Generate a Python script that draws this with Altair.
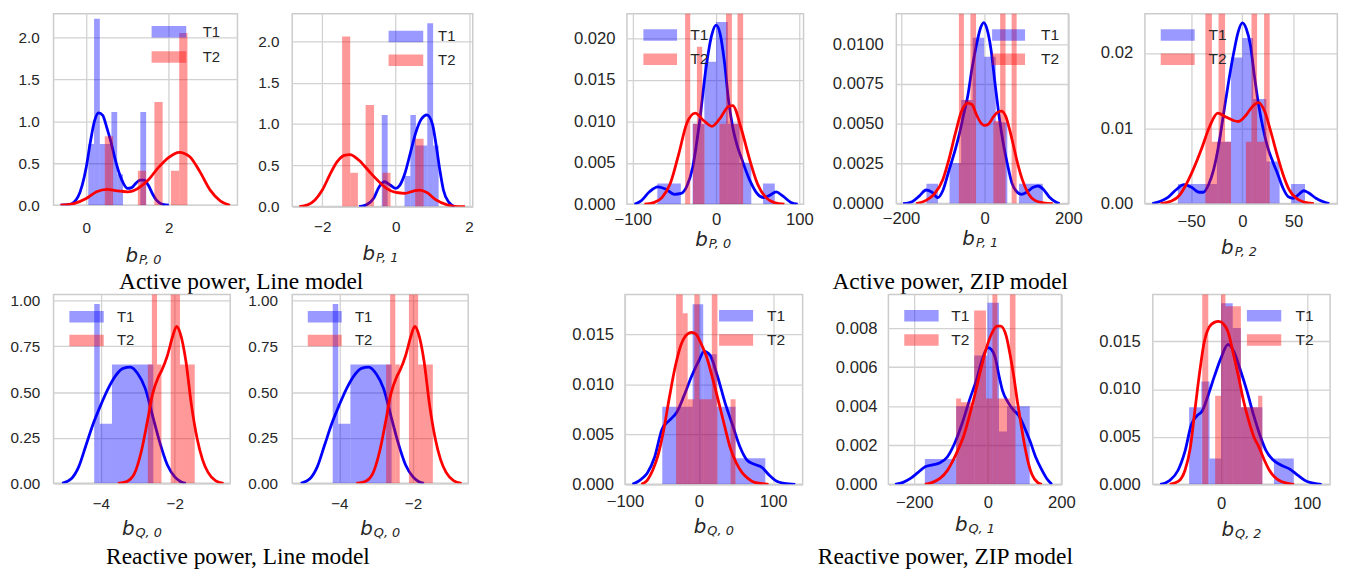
import altair as alt
import pandas as pd

# ---------------- values ----------------
# histogram bars: (left edge, right edge, density); kde: (x, density)
P1_T1_BARS = [(0.05, 0.19, 0.73), (0.19, 0.33, 2.22), (0.33, 0.47, 0.73), (0.47, 0.61, 0.73),
              (0.61, 0.75, 1.11), (0.75, 0.89, 0.37), (1.31, 1.45, 1.11)]
P1_T2_BARS = [(0.45, 0.65, 0.82), (1.25, 1.45, 0.41), (1.65, 1.85, 1.23), (2.05, 2.25, 0.41), (2.25, 2.45, 2.05)]
P1_T1_KDE = [(-0.62, 0), (-0.4, 0.01), (-0.2, 0.1), (0, 0.45), (0.1, 0.75), (0.2, 1.0), (0.3, 1.1), (0.4, 1.07),
             (0.5, 0.92), (0.6, 0.75), (0.7, 0.55), (0.8, 0.38), (0.9, 0.26), (1.0, 0.2), (1.1, 0.21), (1.2, 0.26),
             (1.3, 0.3), (1.4, 0.3), (1.5, 0.24), (1.6, 0.14), (1.7, 0.06), (1.85, 0.01), (2.0, 0)]
P1_T2_KDE = [(-0.62, 0), (-0.3, 0.02), (0, 0.08), (0.25, 0.16), (0.5, 0.19), (0.75, 0.17), (1.0, 0.16), (1.25, 0.2),
             (1.5, 0.3), (1.75, 0.45), (2.0, 0.57), (2.25, 0.63), (2.5, 0.58), (2.75, 0.4), (3.0, 0.18), (3.25, 0.05),
             (3.48, 0)]

P2_T1_BARS = [(-0.38, -0.22, 1.11), (0.24, 0.40, 0.37), (0.40, 0.55, 1.11), (0.55, 0.71, 0.74), (0.71, 0.86, 0.74),
              (0.86, 1.02, 2.22), (1.02, 1.17, 0.74)]
P2_T2_BARS = [(-1.46, -1.24, 2.06), (-1.24, -1.03, 0.41), (-0.82, -0.59, 1.23), (-0.36, -0.14, 0.41), (0.53, 0.76, 0.82)]
P2_T1_KDE = [(-1.0, 0), (-0.8, 0.02), (-0.6, 0.1), (-0.45, 0.24), (-0.3, 0.3), (-0.15, 0.26), (0.0, 0.22), (0.1, 0.25),
             (0.25, 0.4), (0.4, 0.65), (0.55, 0.9), (0.7, 1.06), (0.85, 1.11), (1.0, 1.0), (1.1, 0.75), (1.2, 0.45),
             (1.3, 0.2), (1.45, 0.05), (1.6, 0)]
P2_T2_KDE = [(-2.63, 0), (-2.4, 0.02), (-2.2, 0.08), (-2.0, 0.2), (-1.8, 0.38), (-1.6, 0.54), (-1.4, 0.62), (-1.25, 0.63),
             (-1.0, 0.56), (-0.75, 0.44), (-0.5, 0.32), (-0.25, 0.22), (0.0, 0.17), (0.25, 0.16), (0.5, 0.19),
             (0.65, 0.2), (0.85, 0.17), (1.1, 0.08), (1.4, 0.02), (1.7, 0.0), (1.89, 0)]

P3_T1_BARS = [(-70.5, -42.3, 0.0025), (-28.2, -14.1, 0.0097), (-14.1, 0, 0.0172), (0, 14.1, 0.022),
              (14.1, 28.2, 0.0097), (28.2, 42.3, 0.005), (56.4, 70.5, 0.0025)]
P3_T2_BARS = [(-37.2, -31.0, 0.03), (-27.7, -23.0, 0.0097), (-23.0, -16.6, 0.019), (-16.6, -13.9, 0.0097),
              (4.0, 11.9, 0.0097), (11.9, 19.0, 0.03), (19.0, 25.7, 0.0097), (25.7, 32.5, 0.03)]
P3_T1_KDE = [(-98, 0), (-90, 0.0004), (-80, 0.0015), (-70, 0.0021), (-60, 0.0018), (-50, 0.0012), (-42, 0.0013),
             (-35, 0.0022), (-28, 0.0045), (-20, 0.0098), (-12, 0.0165), (-5, 0.0205), (0, 0.0216), (5, 0.0205),
             (10, 0.0172), (15, 0.0125), (20, 0.0093), (25, 0.0072), (30, 0.0057), (40, 0.0030), (50, 0.0012),
             (57, 0.0008), (65, 0.0011), (72, 0.0015), (80, 0.0010), (90, 0.0002), (98, 0)]
P3_T2_KDE = [(-86, 0), (-75, 0.0002), (-65, 0.0008), (-55, 0.0025), (-45, 0.006), (-35, 0.0098), (-25, 0.011),
             (-15, 0.0101), (-5, 0.0094), (5, 0.0104), (15, 0.0118), (20, 0.0119), (30, 0.0092), (40, 0.0055),
             (50, 0.0024), (60, 0.0008), (70, 0.0002), (82, 0)]

P4_T1_BARS = [(-139, -111.4, 0.00124), (-83.8, -56.2, 0.00255), (-56.2, -28.6, 0.0065), (-28.6, -1, 0.0104),
              (-1, 26.6, 0.0092), (26.6, 54.2, 0.0051), (82, 139, 0.00124)]
P4_T2_BARS = [(-61.5, -49.5, 0.02), (-49.5, -34, 0.0065), (-34, -20.5, 0.02), (21, 37, 0.0052), (37, 50, 0.02),
              (64.5, 76.5, 0.02)]
P4_T1_KDE = [(-195, 0), (-175, 0.0001), (-155, 0.0005), (-140, 0.00085), (-125, 0.0007), (-112, 0.00037),
             (-100, 0.0008), (-85, 0.0021), (-70, 0.0034), (-60, 0.0044), (-50, 0.0056), (-40, 0.0068), (-30, 0.0085),
             (-20, 0.0099), (-10, 0.011), (-2, 0.01135), (5, 0.011), (15, 0.0097), (25, 0.0075), (35, 0.0054),
             (45, 0.0037), (55, 0.0024), (65, 0.0013), (75, 0.0008), (88, 0.00058), (100, 0.0007), (115, 0.001),
             (128, 0.0011), (140, 0.0009), (155, 0.0004), (170, 0.0001), (179, 0)]
P4_T2_KDE = [(-164, 0), (-140, 0.0002), (-120, 0.0006), (-100, 0.0015), (-85, 0.0028), (-70, 0.0044), (-55, 0.0058),
             (-40, 0.0063), (-30, 0.0062), (-20, 0.0056), (-10, 0.0051), (0, 0.0049), (10, 0.005), (20, 0.0054),
             (30, 0.0057), (40, 0.0058), (50, 0.0055), (60, 0.0046), (70, 0.0035), (80, 0.0024), (90, 0.0015),
             (105, 0.0006), (120, 0.0002), (140, 0.00005), (163, 0)]

P5_T1_BARS = [(-63, -24.8, 0.0026), (-24.8, -11, 0.0082), (-11, 0, 0.0194), (0, 10.6, 0.022), (10.6, 23.5, 0.0139),
              (23.5, 36.5, 0.0056), (47.7, 61.3, 0.0026)]
P5_T2_BARS = [(-36.1, -29.7, 0.03), (-29.7, -23.2, 0.0082), (-23.2, -16.8, 0.03), (-16.8, -11, 0.0082),
              (3.5, 9, 0.0082), (9, 14.5, 0.03), (14.5, 21.3, 0.0082), (21.3, 26.8, 0.03)]
P5_T1_KDE = [(-88, 0), (-80, 0.0003), (-72, 0.0009), (-65, 0.0018), (-57, 0.0025), (-50, 0.0022), (-42, 0.0015),
             (-38, 0.0015), (-33, 0.0025), (-28, 0.0045), (-23, 0.0078), (-18, 0.0122), (-13, 0.0165), (-8, 0.0203),
             (-4, 0.0228), (0, 0.024), (4, 0.0232), (8, 0.021), (12, 0.0168), (16, 0.0131), (20, 0.0102),
             (25, 0.0074), (30, 0.0055), (35, 0.0038), (40, 0.002), (45, 0.0009), (50, 0.0007), (55, 0.0012),
             (60, 0.0017), (65, 0.0014), (72, 0.0007), (80, 0.0002), (85, 0)]
P5_T2_KDE = [(-80, 0), (-70, 0.0003), (-62, 0.001), (-55, 0.0025), (-48, 0.0045), (-40, 0.0072), (-32, 0.0102),
             (-24, 0.012), (-16, 0.0115), (-8, 0.011), (-4, 0.0109), (4, 0.0118), (10, 0.0129), (16, 0.0134),
             (22, 0.0122), (28, 0.0095), (34, 0.0065), (40, 0.0038), (46, 0.0018), (52, 0.0008), (60, 0.0002), (70, 0)]

Q0_T1_BARS = [(-4.18, -4.03, 0.982), (-4.03, -3.70, 0.326), (-3.70, -2.58, 0.651)]
Q0_T2_BARS = [(-2.73, -2.62, 0.651), (-2.62, -2.48, 1.1), (-2.48, -2.36, 0.651), (-2.11, -1.86, 1.1),
              (-1.86, -1.46, 0.651)]
Q0_T1_KDE = [(-5.05, 0), (-4.8, 0.025), (-4.6, 0.09), (-4.4, 0.21), (-4.2, 0.33), (-4.0, 0.43), (-3.8, 0.52),
             (-3.6, 0.59), (-3.4, 0.63), (-3.2, 0.637), (-3.0, 0.6), (-2.8, 0.52), (-2.6, 0.37), (-2.4, 0.22),
             (-2.2, 0.1), (-2.0, 0.035), (-1.85, 0.01), (-1.7, 0)]
Q0_T2_KDE = [(-3.54, 0), (-3.3, 0.01), (-3.1, 0.05), (-2.9, 0.18), (-2.75, 0.33), (-2.6, 0.49), (-2.45, 0.58),
             (-2.35, 0.62), (-2.2, 0.7), (-2.05, 0.81), (-1.95, 0.86), (-1.85, 0.82), (-1.7, 0.67), (-1.55, 0.43),
             (-1.4, 0.25), (-1.25, 0.13), (-1.1, 0.06), (-0.9, 0.015), (-0.68, 0)]

P8_T1_BARS = [(-49.6, -8.6, 0.00775), (-8.6, 5.7, 0.018), (5.7, 23.9, 0.013), (23.9, 49.4, 0.00775),
              (49.4, 89.6, 0.0026)]
P8_T2_BARS = [(-30.9, -21.9, 0.02), (-21.9, -15.3, 0.0171), (-15.3, -6.3, 0.0085), (-6.3, 0.4, 0.02),
              (0.4, 17.3, 0.0085), (17.3, 24.9, 0.02), (42.7, 49.4, 0.0085)]
P8_T1_KDE = [(-90, 0), (-80, 0.0004), (-70, 0.0011), (-60, 0.0027), (-50, 0.0055), (-40, 0.0064), (-30, 0.0072),
             (-20, 0.0089), (-10, 0.0108), (0, 0.0124), (7, 0.0133), (15, 0.0129), (25, 0.0108), (35, 0.0082),
             (45, 0.006), (55, 0.0038), (65, 0.0024), (75, 0.0020), (85, 0.0017), (95, 0.0009), (105, 0.0003),
             (115, 0.0001), (130, 0)]
P8_T2_KDE = [(-78, 0), (-70, 0.0004), (-62, 0.0015), (-55, 0.003), (-48, 0.0053), (-40, 0.0087), (-32, 0.0118),
             (-24, 0.014), (-16, 0.015), (-10, 0.0152), (-4, 0.015), (2, 0.0142), (10, 0.0128), (18, 0.0107),
             (26, 0.0084), (34, 0.006), (42, 0.0037), (50, 0.0022), (58, 0.0012), (66, 0.0006), (75, 0.0002), (94, 0)]

P9_T1_BARS = [(-171, -86, 0.0013), (-86, -37, 0.004), (-37, -1, 0.0066), (-1, 30.4, 0.0093), (30.4, 52, 0.0027),
              (52, 114, 0.004)]
P9_T2_BARS = [(-86, -73, 0.0044), (-73, -37, 0.0042), (-37, -5, 0.0089), (-5, 12.5, 0.0044), (12.5, 26, 0.011),
              (26, 60, 0.0044), (60, 75.3, 0.011)]
P9_T1_KDE = [(-252, 0), (-230, 0.0001), (-210, 0.0003), (-190, 0.0006), (-170, 0.0009), (-150, 0.0010),
             (-130, 0.0011), (-110, 0.0014), (-90, 0.0021), (-70, 0.0031), (-50, 0.0043), (-30, 0.0054),
             (-15, 0.0064), (0, 0.0070), (10, 0.0069), (20, 0.0065), (30, 0.0056), (40, 0.0048), (55, 0.0042),
             (70, 0.0038), (85, 0.0035), (100, 0.0029), (115, 0.0022), (130, 0.0014), (145, 0.0008), (160, 0.0003),
             (174, 0)]
P9_T2_KDE = [(-171, 0), (-150, 0.0001), (-130, 0.0003), (-110, 0.0007), (-95, 0.0012), (-80, 0.0018), (-65, 0.0025),
             (-50, 0.0035), (-35, 0.0046), (-20, 0.0058), (-5, 0.0069), (10, 0.0077), (25, 0.0081), (35, 0.0081),
             (50, 0.0076), (60, 0.0067), (70, 0.0056), (80, 0.0043), (90, 0.0031), (100, 0.0020), (110, 0.0011),
             (120, 0.0005), (135, 0.0001), (147, 0)]

P10_T1_BARS = [(-37.3, -23, 0.0081), (-23, -13.5, 0.0108), (-13.5, 0, 0.0027), (0, 13.5, 0.019), (13.5, 23, 0.0164),
               (23, 48, 0.0081), (61.5, 84.6, 0.0027)]
P10_T2_BARS = [(-22, -15, 0.022), (-7, 0, 0.0093), (0, 5, 0.022), (5, 23, 0.0187), (23, 43, 0.0081), (43, 48, 0.0093)]
P10_T1_KDE = [(-71, 0), (-60, 0.0004), (-50, 0.0015), (-42, 0.0035), (-35, 0.0062), (-28, 0.0072), (-22, 0.0077),
              (-15, 0.0094), (-8, 0.0113), (0, 0.0133), (8, 0.0147), (15, 0.0139), (22, 0.0121), (30, 0.0098),
              (38, 0.0072), (45, 0.0052), (52, 0.0036), (60, 0.0026), (70, 0.0020), (80, 0.0016), (90, 0.0009),
              (100, 0.0003), (117, 0)]
P10_T2_KDE = [(-60, 0), (-50, 0.0003), (-42, 0.0015), (-36, 0.0038), (-30, 0.0082), (-25, 0.0118), (-20, 0.0148),
              (-14, 0.0165), (-8, 0.017), (-3, 0.0171), (3, 0.0168), (8, 0.016), (14, 0.0138), (20, 0.0114),
              (26, 0.0088), (32, 0.0067), (38, 0.005), (44, 0.0039), (50, 0.0026), (56, 0.0015), (62, 0.0008),
              (70, 0.0003), (85, 0)]

LEGEND_LABELS = ["T1", "T2"]
CAPTIONS = ["Active power, Line model", "Active power, ZIP model",
            "Reactive power, Line model", "Reactive power, ZIP model"]
SUBSCRIPTS = ["P, 0", "P, 1", "P, 0", "P, 1", "P, 2", "Q, 0", "Q, 0", "Q, 0", "Q, 1", "Q, 2"]

# ---------------- styles / layout ----------------
BLUE, RED = "#0000ff", "#ff0000"
GRID = "#d2d2d2"
TXT = "#262626"
SANS = "Liberation Sans"


def bars_df(bars):
    return pd.DataFrame({"x": [b[0] for b in bars], "x2": [b[1] for b in bars],
                         "y": [b[2] for b in bars], "y0": [0.0] * len(bars)})


def kde_df(pts):
    return pd.DataFrame({"x": [p[0] for p in pts], "y": [p[1] for p in pts]})


ONE = pd.DataFrame({"k": [0]})


def panel(c):
    w, h = c["w"], c["h"]
    xs = alt.Scale(domain=c["xdom"], nice=False, zero=False)
    ys = alt.Scale(domain=c["ydom"], nice=False, zero=False)
    common = dict(title=None, grid=True, ticks=False, domain=False, labelFont=SANS,
                  labelFontSize=c["fs"], labelColor=TXT, gridColor=GRID, gridWidth=1.3,
                  labelFlush=False, labelOverlap=False)
    xax = alt.Axis(values=c["xt"], format="d", labelPadding=c["xpad"], **common)
    yax = alt.Axis(values=c["yt"], format=c["yf"], labelPadding=c["ypad"], **common)
    X = alt.X("x:Q", scale=xs, axis=xax)
    Y = alt.Y("y:Q", scale=ys, axis=yax)
    layers = []
    for bars, kde, col in ((c["b1"], c["k1"], BLUE), (c["b2"], c["k2"], RED)):
        layers.append(alt.Chart(bars_df(bars)).mark_rect(color=col, opacity=0.4, clip=True)
                      .encode(x=X, x2="x2:Q", y=Y, y2="y0:Q"))
        layers.append(alt.Chart(kde_df(kde)).mark_line(color=col, strokeWidth=2.8, interpolate="monotone",
                                                       clip=True).encode(x=X, y=Y))
    bx0, bx1, tx = c["leg"]
    for lab, col, cy in zip(LEGEND_LABELS, (BLUE, RED), c["legy"]):
        layers.append(alt.Chart(ONE).mark_rect(color=col, opacity=0.4).encode(
            x=alt.value(bx0), x2=alt.value(bx1), y=alt.value(cy - 5.8), y2=alt.value(cy + 5.8)))
        layers.append(alt.Chart(ONE).mark_text(text=lab, align="left", baseline="middle", font=SANS,
                                               fontSize=c["lfs"], color=TXT).encode(
            x=alt.value(tx), y=alt.value(cy)))
    # axis title  b_{sub}
    cx = w / 2.0 - 7.5
    layers.append(alt.Chart(ONE).mark_text(text="b", align="right", baseline="alphabetic", font="DejaVu Sans",
                                           fontStyle="italic", fontSize=20, color=TXT).encode(
        x=alt.value(cx), y=alt.value(h + c["tb"])))
    layers.append(alt.Chart(ONE).mark_text(text=c["sub"], align="left", baseline="alphabetic", font="DejaVu Sans",
                                           fontStyle="italic", fontSize=13, color=TXT).encode(
        x=alt.value(cx + 1), y=alt.value(h + c["tb"] + 2)))
    if "cap" in c:
        txt, px, py = c["cap"]
        layers.append(alt.Chart(ONE).mark_text(text=txt, align="center", baseline="alphabetic",
                                               font="Liberation Serif", fontSize=23.6, color="#000000").encode(
            x=alt.value(px), y=alt.value(py)))
    return alt.layer(*layers).properties(width=w, height=h)


def spacer(g):
    return alt.Chart(ONE).mark_point(opacity=0).properties(
        width=g, height=1, view=alt.ViewBackground(stroke="transparent"))


LINE = dict(fs=15.4, lfs=15)
ZIP = dict(fs=16.8, lfs=15.7)
YT_L = [0, 0.5, 1.0, 1.5, 2.0]
YT_Q = [0, 0.25, 0.5, 0.75, 1.0]

cfgs = [
    dict(w=185.7, h=193.4, xdom=[-0.79, 3.66], ydom=[0, 2.28], xt=[0, 2], yt=YT_L, yf=".1f", xpad=15.5, ypad=14.5,
         leg=(99, 134, 150.7), legy=(18.2, 43.7), tb=57, b1=P1_T1_BARS, b2=P1_T2_BARS, k1=P1_T1_KDE, k2=P1_T2_KDE, **LINE),
    dict(w=182.3, h=194.7, xdom=[-2.82, 2.1], ydom=[0, 2.336], xt=[-2, 0, 2], yt=YT_L, yf=".1f", xpad=13.5, ypad=13.3,
         leg=(97.3, 132.3, 147.3), legy=(22.9, 47), tb=54, b1=P2_T1_BARS, b2=P2_T2_BARS, k1=P2_T1_KDE, k2=P2_T2_KDE,
         cap=(CAPTIONS[0], -51.5, 277.5), **LINE),
    dict(w=178.3, h=192.4, xdom=[-107, 105], ydom=[0, 0.02299], xt=[-100, 0, 100],
         yt=[0, 0.005, 0.01, 0.015, 0.02], yf=".3f", xpad=7.5, ypad=12, leg=(16.6, 50.6, 64), legy=(21.5, 45.9),
         tb=42.5, b1=P3_T1_BARS, b2=P3_T2_BARS, k1=P3_T1_KDE, k2=P3_T2_KDE, **ZIP),
    dict(w=173.7, h=191.7, xdom=[-211, 200], ydom=[0, 0.011907], xt=[-200, 0, 200],
         yt=[0, 0.0025, 0.005, 0.0075, 0.01], yf=".4f", xpad=7.5, ypad=13.3, leg=(96.7, 130, 146), legy=(21.5, 45.9),
         tb=42, b1=P4_T1_BARS, b2=P4_T2_BARS, k1=P4_T1_KDE, k2=P4_T2_KDE, cap=(CAPTIONS[1], 54.5, 277.5), **ZIP),
    dict(w=194.3, h=191.7, xdom=[-95.2, 92.9], ydom=[0, 0.02522], xt=[-50, 0, 50], yt=[0, 0.01, 0.02], yf=".2f",
         xpad=10.5, ypad=12.3, leg=(16, 50.3, 64.3), legy=(21.5, 45.9), tb=51,
         b1=P5_T1_BARS, b2=P5_T2_BARS, k1=P5_T1_KDE, k2=P5_T2_KDE, **ZIP),
    dict(w=178.4, h=190.7, xdom=[-5.28, -0.5], ydom=[0, 1.0347], xt=[-4, -2], yt=YT_Q, yf=".2f", xpad=13.3, ypad=14,
         leg=(16, 50.7, 64), legy=(22.5, 46.5), tb=52, b1=Q0_T1_BARS, b2=Q0_T2_BARS, k1=Q0_T1_KDE, k2=Q0_T2_KDE, **LINE),
    dict(w=177.7, h=190.7, xdom=[-5.28, -0.5], ydom=[0, 1.0347], xt=[-4, -2], yt=YT_Q, yf=".2f", xpad=13.3, ypad=15,
         leg=(15.7, 50, 63.4), legy=(22.5, 46.5), tb=52, b1=Q0_T1_BARS, b2=Q0_T2_BARS, k1=Q0_T1_KDE, k2=Q0_T2_KDE,
         cap=(CAPTIONS[2], -54.8, 272.4), **LINE),
    dict(w=179.4, h=191.7, xdom=[-100, 140], ydom=[0, 0.01898], xt=[-100, 0, 100], yt=[0, 0.005, 0.01, 0.015],
         yf=".3f", xpad=9.4, ypad=11.6, leg=(95, 129.4, 143.4), legy=(21.5, 45.9), tb=49,
         b1=P8_T1_BARS, b2=P8_T2_BARS, k1=P8_T1_KDE, k2=P8_T2_KDE, **ZIP),
    dict(w=174.7, h=191.7, xdom=[-270, 200], ydom=[0, 0.009725], xt=[-200, 0, 200],
         yt=[0, 0.002, 0.004, 0.006, 0.008], yf=".3f", xpad=10.2, ypad=11.6, leg=(16, 50.7, 63.4), legy=(21.5, 45.9),
         tb=47, b1=P9_T1_BARS, b2=P9_T2_BARS, k1=P9_T1_KDE, k2=P9_T2_KDE, cap=(CAPTIONS[3], 57.5, 272.4), **ZIP),
    dict(w=179, h=191.7, xdom=[-79.6, 126.9], ydom=[0, 0.01993], xt=[0, 100], yt=[0, 0.005, 0.01, 0.015],
         yf=".3f", xpad=11.9, ypad=12.6, leg=(95, 129.7, 144), legy=(21.5, 45.9), tb=52,
         b1=P10_T1_BARS, b2=P10_T2_BARS, k1=P10_T1_KDE, k2=P10_T2_KDE, **ZIP),
]
for c, s in zip(cfgs, SUBSCRIPTS):
    c["sub"] = s

P = [panel(c) for c in cfgs]

top = alt.hconcat(P[0], spacer(54.3), P[1], spacer(154.4), P[2], spacer(92.3), P[3], spacer(77), P[4],
                  spacing=0, bounds="flush")
bottom = alt.hconcat(P[5], spacer(61.6), P[6], spacer(157.3), P[7], spacer(85.6), P[8],
                     spacer(91.3), P[9], spacing=0, bounds="flush")

chart = alt.vconcat(top, bottom, spacing=-2.5).properties(
    padding={"left": 1, "top": 0, "right": 0, "bottom": 0}
).configure_view(stroke="#cccccc", strokeWidth=1.5)

chart.save("out.html", embed_options={"renderer": "svg", "actions": False})
